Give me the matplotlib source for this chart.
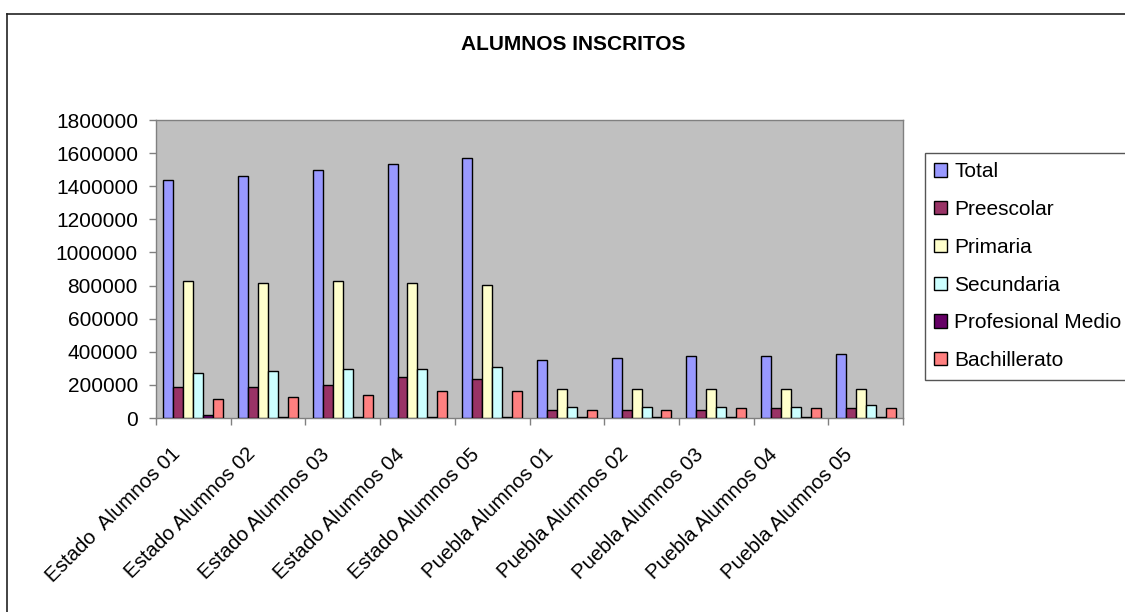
import matplotlib
matplotlib.use("Agg")
import matplotlib.pyplot as plt
import numpy as np
from matplotlib.patches import Patch
from matplotlib.lines import Line2D
from matplotlib.transforms import ScaledTranslation

plt.rcParams['font.family'] = ['Liberation Sans', 'DejaVu Sans']

categories = ["Estado  Alumnos 01", "Estado Alumnos 02", "Estado Alumnos 03",
              "Estado Alumnos 04", "Estado Alumnos 05", "Puebla Alumnos 01",
              "Puebla Alumnos 02", "Puebla Alumnos 03", "Puebla Alumnos 04",
              "Puebla Alumnos 05"]

total = [1436000, 1462000, 1497000, 1535000, 1570000, 348000, 362000, 374000, 374000, 388000]
preescolar = [186000, 186000, 198000, 247000, 237000, 46000, 46000, 46000, 59000, 59000]
primaria = [829000, 817000, 829000, 817000, 805000, 178000, 178000, 178000, 178000, 178000]
secundaria = [271000, 283000, 295000, 295000, 307000, 69000, 69000, 69000, 69000, 81000]
profesional_medio = [16000, 8000, 8000, 8000, 8000, 4000, 4000, 4000, 4000, 4000]
bachillerato = [117000, 127000, 138000, 162000, 162000, 46000, 46000, 59000, 59000, 59000]

series_names = ["Total", "Preescolar", "Primaria", "Secundaria",
                "Profesional Medio", "Bachillerato"]
series_values = [total, preescolar, primaria, secundaria, profesional_medio, bachillerato]
series_colors = ["#9999FF", "#993366", "#FFFFCC", "#CCFFFF", "#660066", "#FF8080"]

y_ticks = [0, 200000, 400000, 600000, 800000, 1000000, 1200000, 1400000, 1600000, 1800000]

W, H = 1125, 612
fig = plt.figure(figsize=(W / 100, H / 100), dpi=100)
fig.patch.set_facecolor("white")

ax = fig.add_axes([156 / W, 1 - 418 / H, (903 - 156) / W, (418 - 120) / H])
ax.set_facecolor("#C0C0C0")

x = np.arange(len(categories))
n = len(series_values)
bw = 0.8 / n
for k, (name, vals, col) in enumerate(zip(series_names, series_values, series_colors)):
    ax.bar(x + (k - (n - 1) / 2) * bw, vals, width=bw, color=col,
           edgecolor="black", linewidth=1.0, label=name, zorder=3)

ax.set_xlim(-0.5, len(categories) - 0.5)
ax.set_ylim(0, 1800000)

ax.set_yticks(y_ticks)
ax.set_yticklabels([str(v) for v in y_ticks])
ax.tick_params(axis='y', direction='out', length=5, width=1, color="#808080",
               pad=8, labelsize=15)

# Tick marks between groups, labels at group centres
ax.set_xticks(np.arange(-0.5, len(categories) + 0.5, 1.0))
ax.set_xticklabels([])
ax.tick_params(axis='x', which='major', direction='out', length=5, width=1, color="#808080")
ax.set_xticks(x, labels=categories, minor=True)
ax.tick_params(axis='x', which='minor', length=0, pad=24, labelsize=14.7)
offset = ScaledTranslation(-16 / 100, 0, fig.dpi_scale_trans)
for lbl in ax.get_xticklabels(minor=True):
    lbl.set_rotation(45)
    lbl.set_ha("right")
    lbl.set_va("center")
    lbl.set_rotation_mode("anchor")
    lbl.set_transform(lbl.get_transform() + offset)

for s in ax.spines.values():
    s.set_color("#808080")
    s.set_linewidth(1.0)

fig.text(573 / W, 1 - 45 / H, "ALUMNOS INSCRITOS", ha="center", va="center",
         fontsize=15, fontweight="bold")

handles = [Patch(facecolor=c, edgecolor="black", linewidth=1.0) for c in series_colors]
leg = fig.legend(handles, series_names, loc="upper left",
                 bbox_to_anchor=(925 / W, 1 - 153 / H), borderaxespad=0,
                 fontsize=15, frameon=True, fancybox=False, framealpha=1,
                 edgecolor="#555555", handlelength=0.6, handleheight=0.6,
                 handletextpad=0.35, labelspacing=0.9, borderpad=0.45)
leg.get_frame().set_linewidth(1.0)

# Chart-area border (top and left edges)
fig.add_artist(Line2D([7 / W, 1.0], [1 - 14 / H, 1 - 14 / H], color="#222222",
                      linewidth=1.2, transform=fig.transFigure))
fig.add_artist(Line2D([7 / W, 7 / W], [0.0, 1 - 14 / H], color="#222222",
                      linewidth=1.2, transform=fig.transFigure))

fig.savefig("out.png", dpi=100)
